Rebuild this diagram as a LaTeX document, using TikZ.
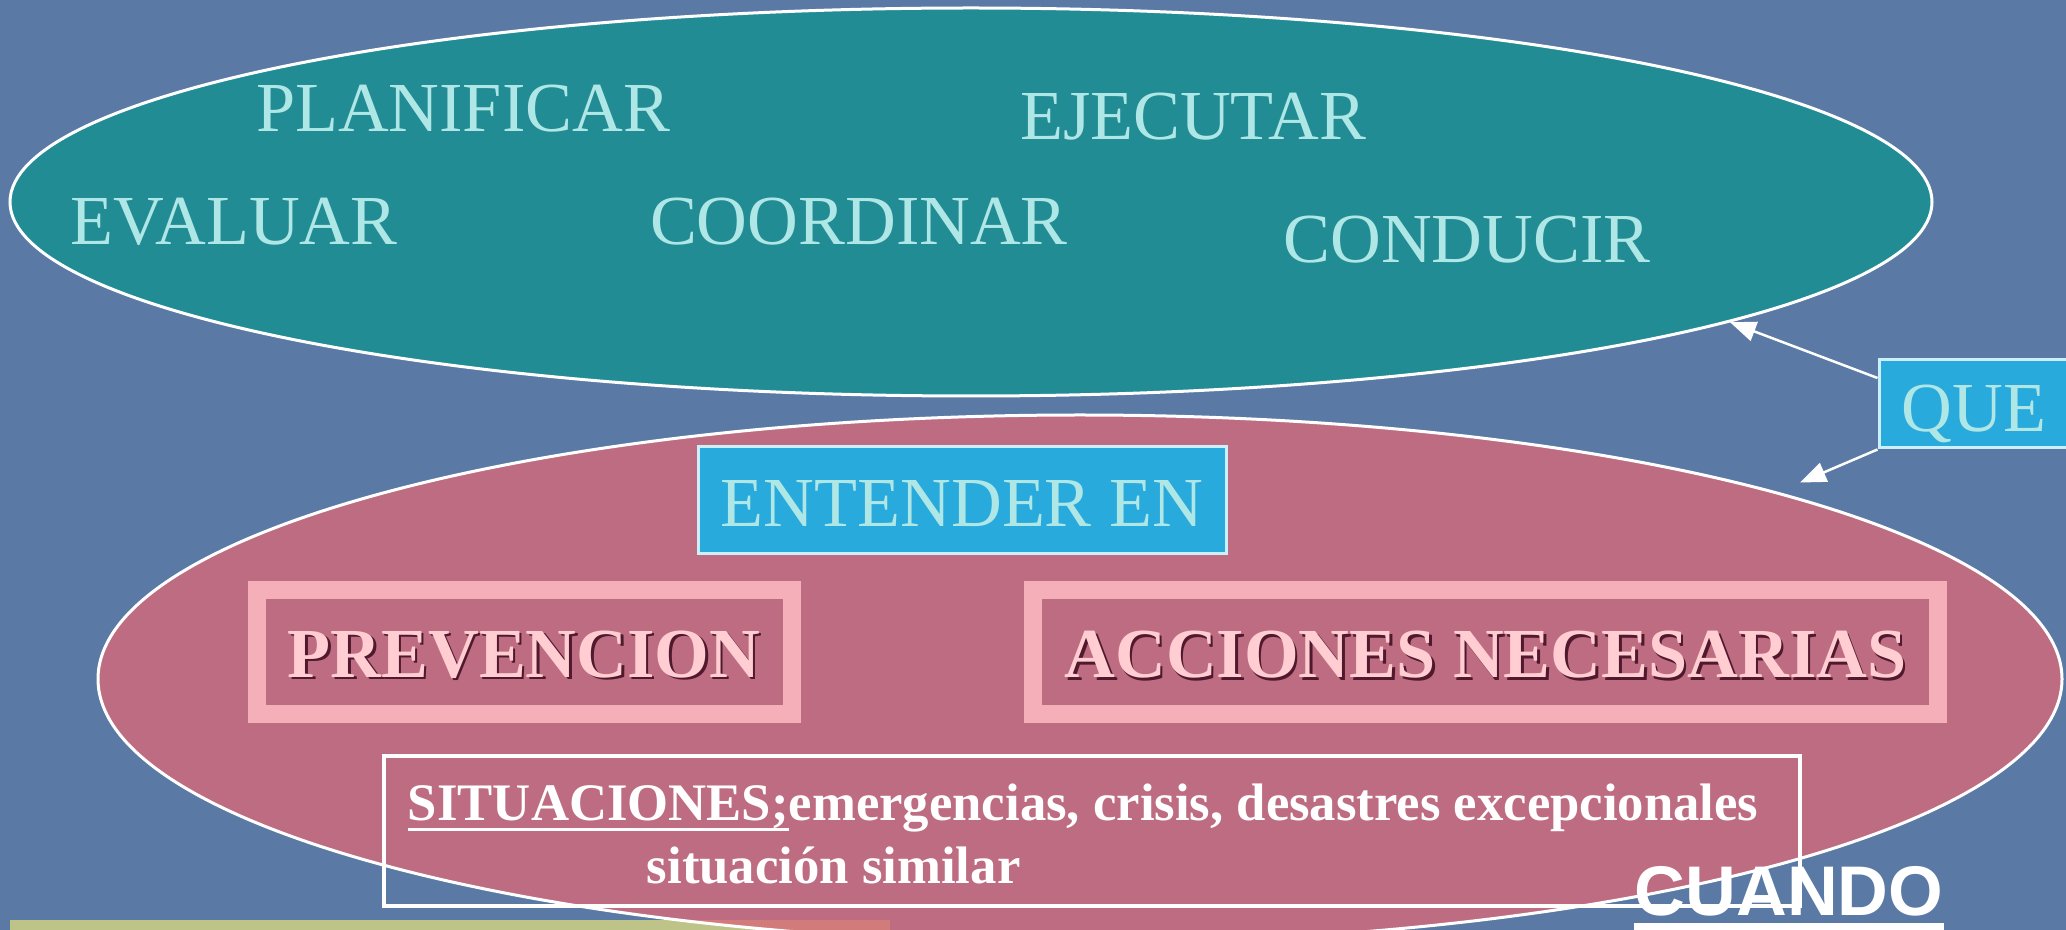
\documentclass[tikz,border=0pt]{standalone}
\usepackage{fontspec}
\setmainfont{Liberation Serif}
\newfontfamily\arialfont{Liberation Sans}
\usepackage{xcolor}
\usepackage{tikz}
\usetikzlibrary{arrows.meta,shapes.geometric,positioning}

\definecolor{slide}{RGB}{90,122,165}
\definecolor{tealfill}{RGB}{33,140,148}
\definecolor{rosefill}{RGB}{215,105,120}
\definecolor{cyanbox}{RGB}{40,170,220}
\definecolor{paletxt}{RGB}{175,230,230}
\definecolor{pinkframe}{RGB}{245,175,185}
\definecolor{pinktxt}{RGB}{255,205,210}
\definecolor{shadetxt}{RGB}{80,25,45}
\definecolor{strip}{RGB}{190,195,135}

\newcommand{\embossed}[1]{\raisebox{-0.04cm}[\height][\depth]{\makebox[0pt][l]{\hspace{0.025cm}\raisebox{-0.025cm}{\color{shadetxt}#1}}#1}}
\newcommand{\thickul}[1]{\setbox0\hbox{#1}\rlap{\rule[-0.1cm]{\wd0}{0.03cm}}\box0}

\tikzset{
  bubble/.style={ellipse,draw=white,line width=0.03cm,inner sep=0pt},
  word/.style={text=paletxt,font=\fontsize{20}{24}\selectfont,inner sep=0pt},
  cyanlabel/.style={fill=cyanbox,draw=white!80!cyan,line width=0.03cm,inner sep=0pt,text=paletxt,font=\fontsize{20}{24}\selectfont},
  framebox/.style={draw=pinkframe,line width=0.18cm,inner sep=0pt,minimum height=1.245cm,text=pinktxt,font=\bfseries\fontsize{20}{24}\selectfont},
  pointer/.style={white,line width=0.025cm,-{Triangle[length=0.26cm,width=0.2cm]}}
}

\begin{document}
\begin{tikzpicture}
  \useasboundingbox[fill=slide] (0,0) rectangle (20.66,-9.30);
  \fill[strip] (0.10,-9.20) rectangle (8.90,-9.40);
  % what to do
  \node[bubble,fill=tealfill,minimum width=19.22cm,minimum height=3.88cm] (tasks) at (9.71,-2.02) {};
  \node[word] (planificar) at (4.63,-1.09) {PLANIFICAR};
  \node[word] (ejecutar) at (11.93,-1.17) {EJECUTAR};
  \node[word] (evaluar) at (2.34,-2.22) {EVALUAR};
  \node[word] (coordinar) at (8.59,-2.22) {COORDINAR};
  \node[word] (conducir) at (14.67,-2.40) {CONDUCIR};
  % where
  \node[bubble,fill=rosefill,fill opacity=0.8,minimum width=19.64cm,minimum height=5.28cm] (fields) at (10.80,-6.79) {};
  \node[cyanlabel,minimum width=5.28cm,minimum height=1.07cm] (entender) at (9.62,-5.005) {\raisebox{-0.03cm}[\height][\depth]{ENTENDER EN}};
  \node[framebox,minimum width=5.35cm] (prevencion) at (5.24,-6.52) {\embossed{PREVENCION}};
  \node[framebox,minimum width=9.05cm] (acciones) at (14.855,-6.52) {\embossed{ACCIONES NECESARIAS}};
  \node[draw=white,line width=0.035cm,minimum width=14.16cm,minimum height=1.50cm,inner sep=0pt] (situaciones) at (10.92,-8.31) {};
  \node[anchor=north west,align=left,text=white,inner sep=0pt,font=\bfseries\fontsize{15}{18}\selectfont] (sittext)
    at ([shift={(0.25,-0.29)}]situaciones.north west) {\thickul{SITUACIONES;}emergencias, crisis, desastres excepcionales\\\hspace*{2.39cm}situación similar};
  % que
  \node[cyanlabel,minimum width=1.90cm,minimum height=0.88cm] (que) at (19.74,-4.04) {\raisebox{-0.1cm}[\height][\depth]{QUE}};
  \draw[pointer] ([yshift=0.26cm]que.west) -- (tasks.-9.3);
  \draw[pointer,shorten >=0.24cm] (que.south west) -- (fields.15.2);
  % cuando
  \node[text=white,inner sep=0pt,font=\arialfont\bfseries\fontsize{20}{24}\selectfont] (cuando) at (17.89,-8.91) {CUANDO};
  \draw[white,line width=0.12cm] ([yshift=-0.12cm]cuando.south west) -- ([yshift=-0.12cm]cuando.south east);
\end{tikzpicture}
\end{document}
